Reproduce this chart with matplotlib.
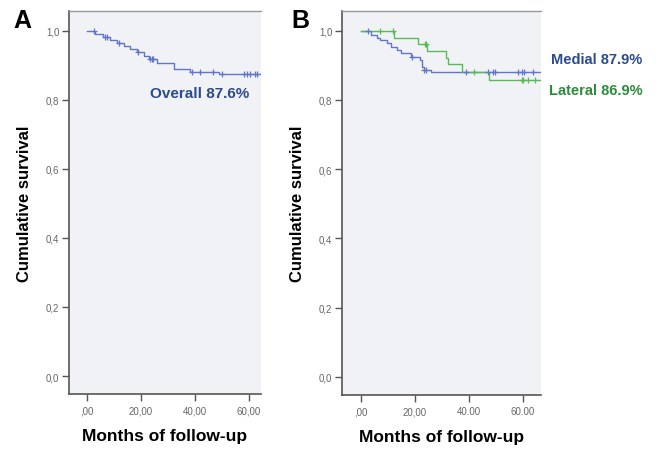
import numpy as np
import matplotlib.pyplot as plt

plt.rcParams['font.family'] = ['Liberation Sans', 'DejaVu Sans']

# ---- data (months, cumulative survival) ----
# panel A: overall
all_t = [0, 3.0, 6.0, 8.5, 11.0, 13.5, 16.0, 18.5, 21.0, 23.0, 25.8, 32.0, 38.0, 49.0]
all_s = [1.0, 0.991, 0.982, 0.973, 0.964, 0.955, 0.946, 0.937, 0.927, 0.917, 0.906, 0.890, 0.881, 0.876]
all_cens = [2.5, 6.5, 7.3, 12.0, 19.0, 23.3, 24.0, 24.4, 38.8, 41.9, 46.8, 49.9,
            58.1, 59.1, 60.4, 62.2, 63.0]
all_end = 64.5

# panel B: medial / lateral
med_t = [0, 3.6, 5.8, 7.0, 9.5, 11.3, 13.2, 15.0, 18.7, 21.8, 22.6, 23.2, 26.1]
med_s = [1.0, 0.988, 0.979, 0.972, 0.964, 0.954, 0.944, 0.937, 0.925, 0.915, 0.896, 0.886, 0.880]
med_cens = [2.7, 18.8, 23.3, 24.0, 39.1, 46.9, 49.0, 49.6, 58.3, 59.7, 60.4, 63.8]
med_end = 67

lat_t = [0, 12.3, 21.0, 24.5, 31.5, 32.3, 37.5, 47.5]
lat_s = [1.0, 0.980, 0.961, 0.942, 0.921, 0.903, 0.880, 0.859]
lat_cens = [7.0, 12.0, 23.7, 24.1, 42.0, 59.7, 60.2, 61.9, 64.4]
lat_end = 67

yticks = [0.0, 0.2, 0.4, 0.6, 0.8, 1.0]
ytick_labels = ['0,0', '0,2', '0,4', '0,6', '0,8', '1,0']
xticks = [0, 20, 40, 60]
xlabels_A = [',00', '20,00', '40,00', '60,00']
xlabels_B = [',00', '20,00', '40.00', '60.00']

blue = '#6275c6'
green = '#5cba5c'
bg = '#f1f2f5'


def km_line(ax, t, s, cens, end, color):
    tt = list(t) + [end]
    ss = list(s) + [s[-1]]
    ax.step(tt, ss, where='post', color=color, lw=1.0, zorder=3)
    # survival value at each censor time from the step function
    idx = np.searchsorted(t, cens, side='right') - 1
    cy = np.array(s)[idx]
    ax.plot(cens, cy, '+', color=color, ms=5, mew=0.9, zorder=4)


def style(ax, xlim, xlabels):
    ax.set_facecolor(bg)
    ax.set_xlim(*xlim)
    ax.set_ylim(-0.052, 1.057)
    ax.set_yticks(yticks)
    ax.set_yticklabels(ytick_labels)
    ax.set_xticks(xticks)
    ax.set_xticklabels(xlabels)
    ax.tick_params(axis='both', direction='out', length=5, width=1.0,
                   colors='#555555', labelsize=7, labelcolor='#666666')
    ax.tick_params(axis='x', pad=3)
    ax.tick_params(axis='y', pad=2)
    for side in ['left', 'bottom']:
        ax.spines[side].set_color('#555555')
        ax.spines[side].set_linewidth(1.2)
    ax.spines['top'].set_color('#999999')
    ax.spines['top'].set_linewidth(1.0)
    ax.spines['right'].set_visible(False)
    ax.set_ylabel('Cumulative survival', fontsize=12, fontweight='bold',
                  color='black', labelpad=10)
    ax.set_xlabel('Months of follow-up', fontsize=12.5, fontweight='bold',
                  color='black', labelpad=9)


fig = plt.figure(figsize=(6.63, 4.56), dpi=100)

axA = fig.add_axes([69/663, 61/456, 192/663, 383/456])
style(axA, (-6.7, 64.4), xlabels_A)
km_line(axA, all_t, all_s, all_cens, all_end, blue)
axA.text(0.42, 0.785, 'Overall 87.6%', transform=axA.transAxes, color='#2b4b8c',
         fontsize=11, fontweight='bold', ha='left', va='center')

axB = fig.add_axes([342/663, 60/456, 199/663, 384/456])
style(axB, (-7.0, 66.7), xlabels_B)
km_line(axB, med_t, med_s, med_cens, med_end, blue)
km_line(axB, lat_t, lat_s, lat_cens, lat_end, green)
fig.text(551/663, 1 - 60/456, 'Medial 87.9%', color='#2b4b8c', fontsize=10.5,
         fontweight='bold', ha='left', va='center')
fig.text(549/663, 1 - 91/456, 'Lateral 86.9%', color='#2e8b3c', fontsize=10.5,
         fontweight='bold', ha='left', va='center')

fig.text(13/663, 1 - 21/456, 'A', fontsize=18, fontweight='bold', ha='left', va='center')
fig.text(291/663, 1 - 21/456, 'B', fontsize=18, fontweight='bold', ha='left', va='center')

fig.savefig('out.png', dpi=100)
